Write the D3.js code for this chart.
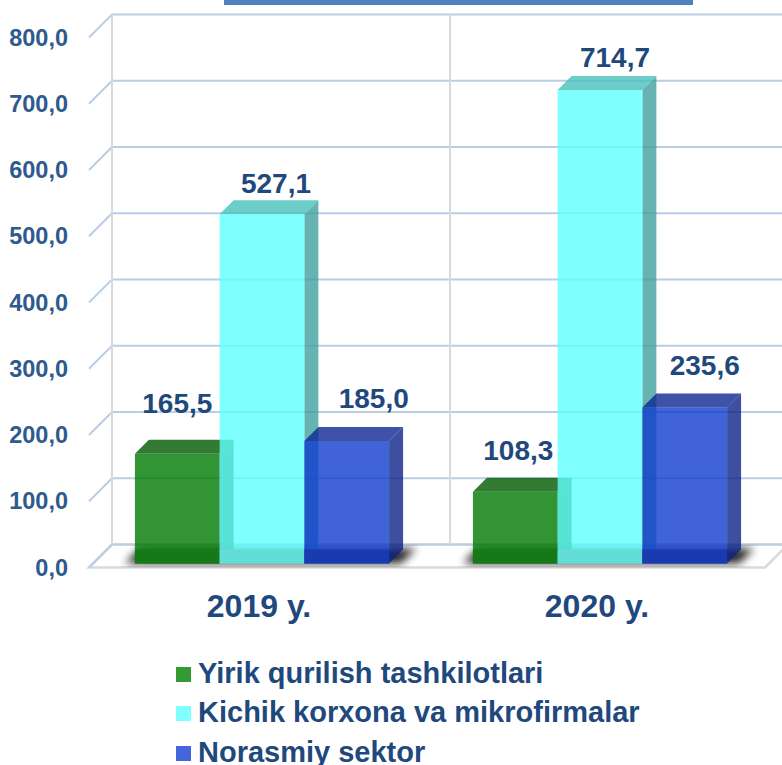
<!DOCTYPE html>
<html><head><meta charset="utf-8">
<script src="https://cdn.jsdelivr.net/npm/d3@7"></script>
<style>
body{margin:0;background:#fff;}
svg{display:block;font-family:"Liberation Sans",Arial,sans-serif;font-weight:bold;}
</style>
</head><body>
<svg id="chart" width="782" height="765"></svg>
<script>
// ---- data ----
const categories = ["2019 y.", "2020 y."];
const seriesNames = ["Yirik qurilish tashkilotlari", "Kichik korxona va mikrofirmalar", "Norasmiy sektor"];
const yirikValues = [165.5, 108.3];
const kichikValues = [527.1, 714.7];
const norasmiyValues = [185.0, 235.6];
const yTickValues = [0, 100, 200, 300, 400, 500, 600, 700, 800];

// ---- styles / layout ----
const seriesStyle = [
  {front:"rgb(0,121,0)",   top:"rgb(0,89,0)",     side:"rgb(0,89,0)",     band:"rgb(23,120,23)",  legend:"#339933"},
  {front:"rgb(96,255,255)",top:"rgb(71,192,187)", side:"rgb(64,160,159)", band:"rgb(98,222,214)", legend:"#80ffff"},
  {front:"rgb(16,60,206)", top:"rgb(12,39,146)",  side:"rgb(12,35,134)",  band:"rgb(26,58,176)",  legend:"#4466dd"}
];
// manual label nudges [dx, dy] relative to bar front centre / back top (per category, per series)
const labelNudge = [
  [[0,-27],[14,-7],[27,-19]],
  [[3,-18],[15,-9],[20,-18]]
];
const seriesValues = [yirikValues, kichikValues, norasmiyValues];

const svg = d3.select("#chart");
const WALL = 23, BZ0 = 4, BZ1 = 18, ALPHA = 0.8;
const x = d3.scaleBand().domain(categories).range([89, 765]).paddingInner(0.248).paddingOuter(0.124);
const xs = d3.scaleBand().domain(seriesNames).range([0, x.bandwidth()]);
const y = d3.scaleLinear().domain([0, 800]).range([567.5, 37.5]);
const P = (px, v, z) => [px + z, y(v) - z];
const fmt = v => d3.format(".1f")(v).replace(".", ",");
const [xL, xR] = x.range();

// title strip
svg.append("rect").attr("x", 224).attr("y", 0).attr("width", 469).attr("height", 5).attr("fill", "#4f81bd");

// defs
const defs = svg.append("defs");
defs.append("filter").attr("id", "blur").attr("x", "-20%").attr("y", "-100%").attr("width", "140%").attr("height", "300%")
  .append("feGaussianBlur").attr("stdDeviation", 4);
const floorPts = [P(xL,0,0), P(xL,0,WALL), P(xR,0,WALL), P(xR,0,0)];
defs.append("clipPath").attr("id", "floorClip").append("polygon").attr("points", floorPts.map(p => p.join(",")).join(" "));

// floor
svg.append("polygon").attr("points", floorPts.map(p => p.join(",")).join(" "))
  .attr("fill", "#fff").attr("stroke", "#d9d9d9").attr("stroke-width", 2.5);

// gridlines
const grid = svg.append("g").attr("stroke", "#b9cde5").attr("stroke-width", 2).attr("fill", "none");
yTickValues.forEach(t => {
  const a = P(xL, t, 0), b = P(xL, t, WALL), c = P(xR, t, WALL);
  grid.append("path").attr("d", `M${a}L${b}L${c}`);
});
// wall verticals
const walls = svg.append("g").attr("stroke", "#d9d9d9").attr("stroke-width", 2);
[xL, xL + x.step()].forEach(px => {
  const a = P(px, 800, WALL), b = P(px, 0, WALL);
  walls.append("line").attr("x1", a[0]).attr("y1", a[1]).attr("x2", b[0]).attr("y2", b[1]);
});

// shadows
const sh = svg.append("g").attr("clip-path", "url(#floorClip)");
categories.forEach(cat => {
  const gx0 = x(cat) - 10, gx1 = x(cat) + x.bandwidth() + 12;
  const pts = [P(gx0,0,BZ0), P(gx1,0,BZ0), P(gx1,0,BZ1+1), P(gx0,0,BZ1+1)];
  sh.append("polygon").attr("points", pts.map(p => p.join(",")).join(" "))
    .attr("fill", "#000").attr("opacity", 0.85).attr("filter", "url(#blur)");
});

// bars
const bars = svg.append("g");
categories.forEach((cat, i) => {
  seriesNames.forEach((name, j) => {
    const v = seriesValues[j][i];
    const st = seriesStyle[j];
    const x0 = x(cat) + xs(name), x1 = x0 + xs.bandwidth();
    const g = bars.append("g");
    const poly = pts => pts.map(p => p.join(",")).join(" ");
    g.append("polygon").attr("points", poly([P(x1,v,BZ0), P(x1,v,BZ1), P(x1,0,BZ1), P(x1,0,BZ0)]))
      .attr("fill", st.side).attr("fill-opacity", ALPHA);
    g.append("polygon").attr("points", poly([P(x0,v,BZ0), P(x1,v,BZ0), P(x1,v,BZ1), P(x0,v,BZ1)]))
      .attr("fill", st.top).attr("fill-opacity", ALPHA);
    const f0 = P(x0, v, BZ0), f1 = P(x1, 0, BZ0);
    g.append("rect").attr("x", f0[0]).attr("y", f0[1]).attr("width", f1[0] - f0[0]).attr("height", f1[1] - f0[1])
      .attr("fill", st.front).attr("fill-opacity", ALPHA);
    const b0 = P(x0, 0, BZ1);
    g.append("rect").attr("x", f0[0]).attr("y", b0[1]).attr("width", f1[0] - f0[0]).attr("height", f1[1] - b0[1])
      .attr("fill", st.band);
  });
});

// value labels
const labels = svg.append("g").attr("fill", "#1f497d").attr("font-size", 28).attr("text-anchor", "middle");
categories.forEach((cat, i) => {
  seriesNames.forEach((name, j) => {
    const v = seriesValues[j][i];
    const cx = x(cat) + xs(name) + xs.bandwidth() / 2 + BZ0;
    const topBack = y(v) - BZ1;
    const [dx, dy] = labelNudge[i][j];
    labels.append("text").attr("x", cx + dx).attr("y", topBack + dy).text(fmt(v));
  });
});

// y axis labels
const yAxis = svg.append("g").attr("transform", "translate(68,0)")
  .call(d3.axisLeft(y).tickValues(yTickValues).tickSize(0).tickPadding(0).tickFormat(fmt));
yAxis.select(".domain").remove();
yAxis.selectAll("text").attr("fill", "#2e5a8e").attr("font-size", 23.5)
  .attr("font-family", "'Liberation Sans',Arial,sans-serif").attr("font-weight", "bold");

// category labels
svg.append("g").selectAll("text").data(categories).join("text")
  .attr("x", d => x(d) + x.bandwidth() / 2 + 1).attr("y", 617)
  .attr("text-anchor", "middle").attr("font-size", 32).attr("fill", "#1f497d").text(d => d);

// legend
const lg = svg.append("g");
const legBase = [683, 722, 762];
seriesNames.forEach((name, j) => {
  lg.append("rect").attr("x", 176).attr("y", legBase[j] - 16).attr("width", 15).attr("height", 15).attr("fill", seriesStyle[j].legend);
  lg.append("text").attr("x", 198).attr("y", legBase[j]).attr("font-size", 29).attr("fill", "#1f497d").text(name);
});
</script>
</body></html>
